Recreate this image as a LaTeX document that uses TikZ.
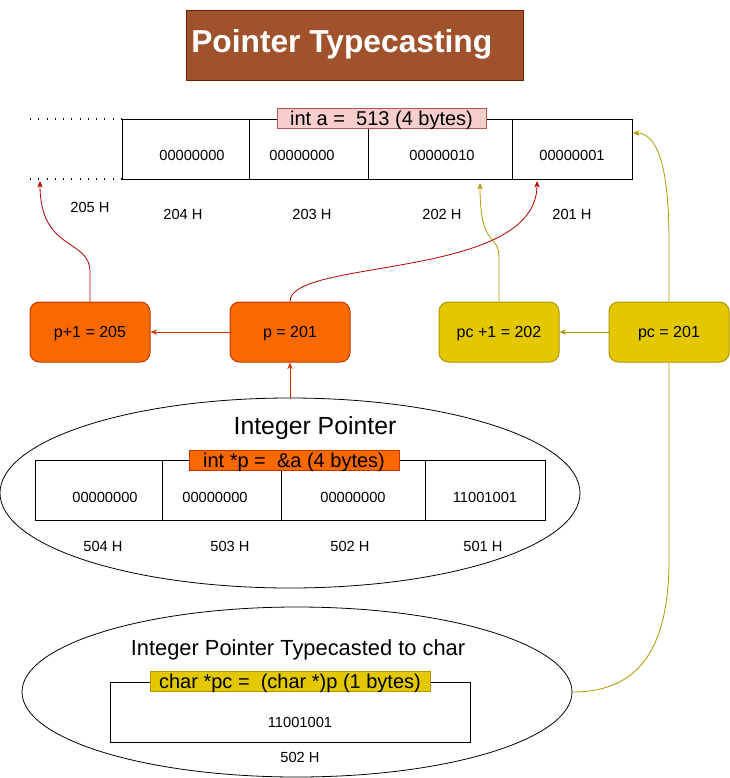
\documentclass[tikz,border=0pt]{standalone}
\usepackage{fontspec}
\setmainfont{Liberation Sans}
\usetikzlibrary{shapes.geometric,arrows.meta}
\definecolor{titlefill}{HTML}{A0522D}
\definecolor{titledraw}{HTML}{6D1F00}
\definecolor{pinkfill}{HTML}{F8CECC}
\definecolor{pinkdraw}{HTML}{B85450}
\definecolor{orfill}{HTML}{FA6800}
\definecolor{ordraw}{HTML}{C73500}
\definecolor{yefill}{HTML}{E3C800}
\definecolor{yedraw}{HTML}{B09500}
\definecolor{redline}{HTML}{B20000}
\tikzset{
  cellbox/.style={draw=black, line width=0.75pt, minimum height=45pt, inner sep=0pt},
  memtxt/.style={font=\fontsize{11}{12}\selectfont, inner sep=0pt},
  addr/.style={font=\fontsize{11}{12}\selectfont, inner sep=0pt},
  lbl/.style={line width=0.75pt, minimum height=15pt, inner sep=0pt, text depth=0pt, font=\fontsize{15}{15}\selectfont},
  ptrbox/.style={rounded corners=7pt, line width=0.75pt, minimum width=90pt, minimum height=45pt, inner sep=0pt, text depth=0pt, font=\fontsize{12}{14}\selectfont},
  orbox/.style={ptrbox, fill=orfill, draw=ordraw},
  yebox/.style={ptrbox, fill=yefill, draw=yedraw},
  ell/.style={ellipse, draw=black, line width=0.6pt, inner sep=0pt},
  tip/.style={-{Stealth[length=5pt,width=4pt]}},
  redarr/.style={tip, draw=redline, line width=0.6pt},
  orarr/.style={tip, draw=ordraw, line width=0.6pt},
  yearr/.style={tip, draw=yedraw, line width=0.6pt},
  yeline/.style={draw=yedraw, line width=0.6pt},
  dotline/.style={draw=black, line width=0.9pt, dash pattern=on 0.8pt off 5.4pt}
}
\begin{document}
\begin{tikzpicture}[x=0.75pt, y=-0.75pt]
\useasboundingbox (0,0) rectangle (730,778);

% title
\node[fill=titlefill, draw=titledraw, line width=0.75pt, minimum width=252.75pt, minimum height=52.5pt, inner sep=0pt] (title) at (354.5,45) {};
\node[anchor=west, inner sep=0pt, text=white, text depth=0pt, font=\fontsize{23.8}{26}\selectfont\bfseries] (titletxt) at (191,41) {Pointer Typecasting};

% dotted lines
\coordinate (d1a) at (30,119); \coordinate (d1b) at (122,119);
\coordinate (d2a) at (30,179); \coordinate (d2b) at (122,179);
\draw[dotline] (d1a) -- (d1b);
\draw[dotline] (d2a) -- (d2b);

% top memory row
\node[cellbox, minimum width=95.25pt] (a1) at (185.5,149) {};
\node[cellbox, minimum width=89.25pt] (a2) at (308.5,149) {};
\node[cellbox, minimum width=108pt] (a3) at (440,149) {};
\node[cellbox, minimum width=90pt] (a4) at (572,149) {};
\node[memtxt] (a1t) at (192,155) {00000000};
\node[memtxt] (a2t) at (302,155) {00000000};
\node[memtxt] (a3t) at (442,155) {00000010};
\node[memtxt] (a4t) at (572,155) {00000001};
\node[lbl, fill=pinkfill, draw=pinkdraw, minimum width=156.75pt] (la) at (381.5,118) {int a =~ 513 (4 bytes)};

% addresses
\node[addr] (ad205) at (90,207) {205 H};
\node[addr] (ad204) at (183,214) {204 H};
\node[addr] (ad203) at (312,214) {203 H};
\node[addr] (ad202) at (442,214) {202 H};
\node[addr] (ad201) at (572,214) {201 H};

% pointer boxes
\node[orbox] (pp1) at (90,332) {p+1 = 205};
\node[orbox] (p) at (290,332) {p = 201};
\node[yebox] (pcp1) at (499,332) {pc +1 = 202};
\node[yebox] (pc) at (669,332) {pc = 201};

% ellipse 1
\node[ell, minimum width=435pt, minimum height=142.5pt] (e1) at (290,493) {};
\node[inner sep=0pt, text depth=0pt, font=\fontsize{18.6}{20}\selectfont] (e1t) at (315,426) {Integer Pointer};
\node[cellbox, minimum width=95.25pt] (b1) at (98.5,490) {};
\node[cellbox, minimum width=89.25pt] (b2) at (221.5,490) {};
\node[cellbox, minimum width=108pt] (b3) at (353,490) {};
\node[cellbox, minimum width=90pt] (b4) at (485,490) {};
\node[memtxt] (b1t) at (105,497) {00000000};
\node[memtxt] (b2t) at (215,497) {00000000};
\node[memtxt] (b3t) at (353,497) {00000000};
\node[memtxt] (b4t) at (485,497) {11001001};
\node[lbl, fill=orfill, draw=ordraw, minimum width=157.5pt] (lp) at (294,460) {int *p =~ \&a (4 bytes)};
\node[addr] (ad504) at (103,546) {504 H};
\node[addr] (ad503) at (230,546) {503 H};
\node[addr] (ad502) at (350,546) {502 H};
\node[addr] (ad501) at (483,546) {501 H};

% ellipse 2
\node[ell, minimum width=412.5pt, minimum height=127.5pt] (e2) at (297,692) {};
\node[inner sep=0pt, text depth=0pt, font=\fontsize{16.4}{18}\selectfont] (e2t) at (298,648) {Integer Pointer Typecasted to char};
\node[cellbox, minimum width=270pt] (c1) at (290,712) {};
\node[memtxt] (c1t) at (300,722) {11001001};
\node[lbl, fill=yefill, draw=yedraw, minimum width=210pt] (lpc) at (290,681) {char *pc =~ (char *)p (1 bytes)};
\node[addr] (ad502b) at (300,757) {502 H};

% target coordinates
\coordinate (t205) at (40,181);
\coordinate (t201) at (537,181);
\coordinate (t202) at (480,183);
\coordinate (tpc) at (633,133);

% connectors
\draw[orarr] (p.west) -- (pp1.east);
\draw[yearr] (pc.west) -- (pcp1.east);
\draw[orarr] (e1.north) -- (p.south);
\draw[redarr] (pp1.north) -- (90,272) .. controls (90,238) and (40,252) .. (t205);
\draw[redarr] (p.north) .. controls (290,258) and (537,280) .. (t201);
\draw[yearr] (pcp1.north) -- (499,258) .. controls (499,232) and (480,250) .. (t202);
\draw[yearr] (pc.north) -- (669,240) .. controls (669,160) and (655,133) .. (tpc);
\draw[yeline] (pc.south) -- (669,560) .. controls (669,660) and (630,692) .. (e2.east);
\end{tikzpicture}
\end{document}
